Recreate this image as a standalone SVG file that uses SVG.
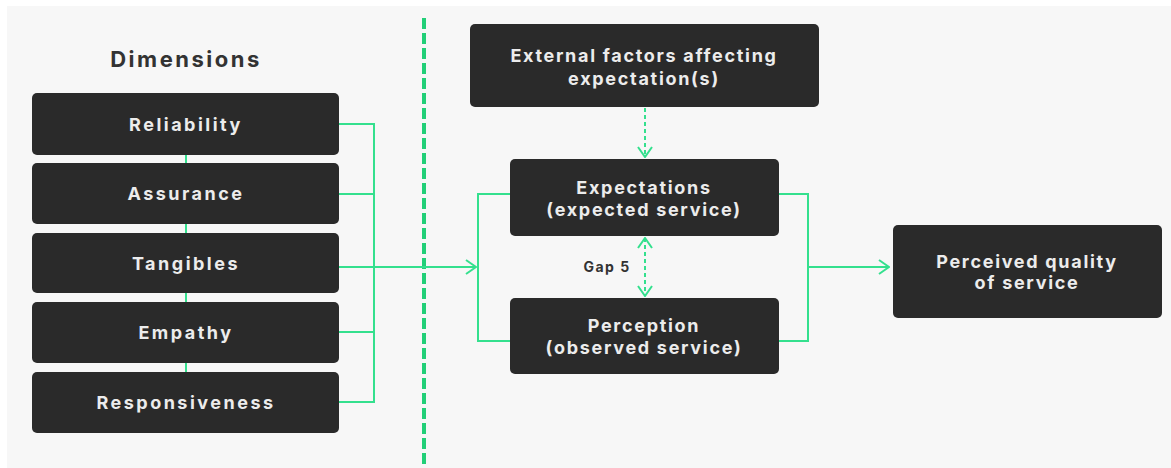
<svg xmlns="http://www.w3.org/2000/svg" width="1171" height="468" viewBox="0 0 1171 468">
<defs>
<style>
.box{fill:#2a2a2a;}
.t{font-family:Inter,"Liberation Sans",sans-serif;font-weight:700;font-size:18px;fill:#ececec;text-anchor:middle;letter-spacing:1.7px;}
.d{letter-spacing:2.5px;}
.ln{stroke:#34e08e;stroke-width:2;fill:none;}
.dl{stroke:#34e08e;stroke-width:2;fill:none;stroke-dasharray:4 3;}
</style>
<marker id="ah" viewBox="0 0 12 16" refX="11" refY="8" markerWidth="12" markerHeight="16" markerUnits="userSpaceOnUse" orient="auto-start-reverse">
<path d="M1,1 L11,8 L1,15" fill="none" stroke="#34e08e" stroke-width="2"/>
</marker>
</defs>
<rect x="0" y="0" width="1171" height="468" fill="#ffffff"/>
<rect x="7" y="6" width="1164" height="462" fill="#f7f7f7"/>
<text x="186" y="67" font-family="Inter,'Liberation Sans',sans-serif" font-weight="700" font-size="22" fill="#333333" text-anchor="middle" letter-spacing="2.5">Dimensions</text>
<g id="connectors">
<line x1="424" y1="18" x2="424" y2="468" stroke="#22cf78" stroke-width="4" stroke-dasharray="11 4"/>
<line class="ln" x1="186" y1="155" x2="186" y2="163"/>
<line class="ln" x1="186" y1="224" x2="186" y2="233"/>
<line class="ln" x1="186" y1="293" x2="186" y2="302"/>
<line class="ln" x1="186" y1="363" x2="186" y2="372"/>
<polyline class="ln" points="339,124 374,124 374,402 339,402"/>
<line class="ln" x1="339" y1="194" x2="374" y2="194"/>
<line class="ln" x1="339" y1="332" x2="374" y2="332"/>
<line class="ln" x1="339" y1="267" x2="476" y2="267" marker-end="url(#ah)"/>
<polyline class="ln" points="510,194 478,194 478,341 510,341"/>
<polyline class="ln" points="779,194 808,194 808,341 779,341"/>
<line class="ln" x1="808" y1="267" x2="889" y2="267" marker-end="url(#ah)"/>
<line class="dl" x1="645" y1="108" x2="645" y2="157" marker-end="url(#ah)"/>
<line class="dl" x1="645" y1="238" x2="645" y2="296" marker-start="url(#ah)" marker-end="url(#ah)"/>
<text x="607" y="272" font-family="Inter,'Liberation Sans',sans-serif" font-weight="700" font-size="14" fill="#333333" text-anchor="middle" letter-spacing="1.5">Gap 5</text>
</g>
<g id="reliability"><rect class="box" x="32" y="93" width="307" height="62" rx="5"/><text class="t d" x="186" y="131">Reliability</text></g>
<g id="assurance"><rect class="box" x="32" y="163" width="307" height="61" rx="5"/><text class="t d" x="186" y="200">Assurance</text></g>
<g id="tangibles"><rect class="box" x="32" y="233" width="307" height="60" rx="5"/><text class="t d" x="186" y="270">Tangibles</text></g>
<g id="empathy"><rect class="box" x="32" y="302" width="307" height="61" rx="5"/><text class="t d" x="186" y="339">Empathy</text></g>
<g id="responsiveness"><rect class="box" x="32" y="372" width="307" height="61" rx="5"/><text class="t d" x="186" y="409">Responsiveness</text></g>
<g id="external"><rect class="box" x="470" y="24" width="349" height="83" rx="5"/><text class="t" x="644" y="62">External factors affecting</text><text class="t" x="644" y="85">expectation(s)</text></g>
<g id="expectations"><rect class="box" x="510" y="159" width="269" height="77" rx="5"/><text class="t" x="644" y="194">Expectations</text><text class="t" x="644" y="216">(expected service)</text></g>
<g id="perception"><rect class="box" x="510" y="298" width="269" height="76" rx="5"/><text class="t" x="644" y="332">Perception</text><text class="t" x="644" y="354">(observed service)</text></g>
<g id="perceived"><rect class="box" x="893" y="225" width="269" height="93" rx="5"/><text class="t" x="1027" y="268">Perceived quality</text><text class="t" x="1027" y="289">of service</text></g>
</svg>
